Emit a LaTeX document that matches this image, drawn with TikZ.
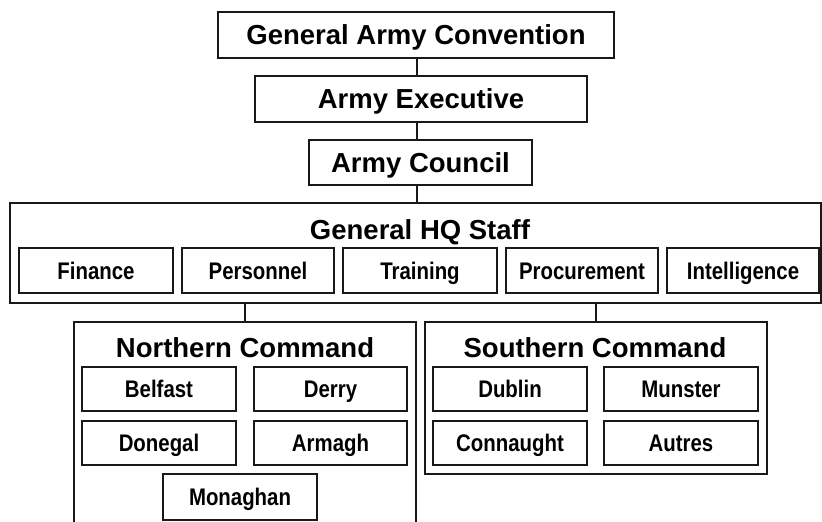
\documentclass[tikz,border=0pt]{standalone}
\usepackage{fontspec}
\setmainfont{Liberation Sans}
\newfontfamily\narrowfont[FakeStretch=0.85]{Liberation Sans}
\newcommand\boxnode[7]{%
  \pgfmathsetmacro\bxc{(#3+#5)/2}\pgfmathsetmacro\byc{(#4+#6)/2}%
  \pgfmathsetmacro\bw{#5-#3}\pgfmathsetmacro\bh{#6-#4}%
  \node[#1, minimum width=\bw pt, minimum height=\bh pt] (#2) at (\bxc,\byc) {#7};}
\begin{document}
\begin{tikzpicture}[x=1pt,y=-1pt,
  frame/.style={draw=black!90, line width=1.3pt, inner sep=0pt, fill=none},
  bigbox/.style={frame, font=\fontsize{27.5}{30}\selectfont\bfseries, text height=19.7pt, text depth=0pt},
  subbox/.style={frame, font=\narrowfont\fontsize{24}{26}\selectfont\bfseries, text height=17.2pt, text depth=0pt},
  titletext/.style={inner sep=0pt, font=\fontsize{27.5}{30}\selectfont\bfseries, text height=19.7pt, text depth=0pt},
  link/.style={draw=black!90, line width=1.3pt}]
\useasboundingbox (0,0) rectangle (822,522);
\clip (0,0) rectangle (822,522);
% top chain
\boxnode{bigbox}{gac}{218}{12}{614}{58}{General Army Convention}
\boxnode{bigbox}{ae}{255}{76}{587}{122}{Army Executive}
\boxnode{bigbox}{ac}{309}{140}{532}{185}{Army Council}
% General HQ staff
\boxnode{frame}{ghq}{10}{203}{821}{303}{}
\node[titletext] (ghqt) at (420,230) {General HQ Staff};
\boxnode{subbox}{fin}{19}{248}{173}{293}{Finance}
\boxnode{subbox}{per}{182}{248}{334}{293}{Personnel}
\boxnode{subbox}{tra}{343}{248}{497}{293}{Training}
\boxnode{subbox}{pro}{506}{248}{658}{293}{Procurement}
\boxnode{subbox}{int}{667}{248}{819}{293}{Intelligence}
% Northern command (open at the bottom)
\boxnode{frame}{nc}{74}{322}{416}{545}{}
\node[titletext] (nct) at (245,348) {Northern Command};
\boxnode{subbox}{bel}{82}{367}{236}{411}{Belfast}
\boxnode{subbox}{der}{254}{367}{407}{411}{Derry}
\boxnode{subbox}{don}{82}{421}{236}{465}{Donegal}
\boxnode{subbox}{arm}{254}{421}{407}{465}{Armagh}
\boxnode{subbox}{mon}{163}{474}{317}{520}{Monaghan}
% Southern command
\boxnode{frame}{sc}{425}{322}{767}{474}{}
\node[titletext] (sct) at (595,348) {Southern Command};
\boxnode{subbox}{dub}{433}{367}{587}{411}{Dublin}
\boxnode{subbox}{mun}{604}{367}{758}{411}{Munster}
\boxnode{subbox}{con}{433}{421}{587}{465}{Connaught}
\boxnode{subbox}{aut}{604}{421}{758}{465}{Autres}
% connectors
\coordinate (c1) at (417,0);
\draw[link] (gac.south -| c1) -- (ae.north -| c1);
\draw[link] (ae.south -| c1) -- (ac.north -| c1);
\draw[link] (ac.south -| c1) -- (ghq.north -| c1);
\draw[link] (nc.north) -- (nc.north |- ghq.south);
\draw[link] (sc.north) -- (sc.north |- ghq.south);
\end{tikzpicture}
\end{document}
